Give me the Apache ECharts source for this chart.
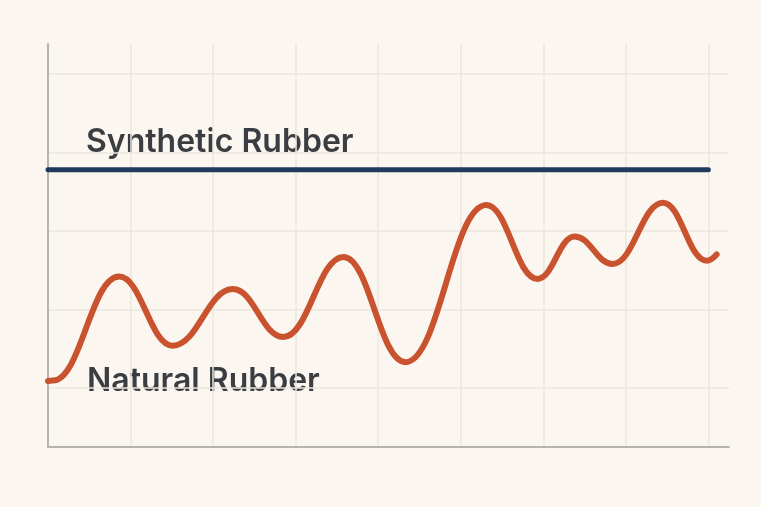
<!DOCTYPE html>
<html>
<head>
<meta charset="utf-8">
<script src="https://cdn.jsdelivr.net/npm/echarts@6/dist/echarts.min.js"></script>
<style>
html,body{margin:0;padding:0;background:#fbf7f0;}
#chart{width:761px;height:507px;}
</style>
</head>
<body>
<div id="chart"></div>
<script>
// Series names
const seriesNames = ['Synthetic Rubber', 'Natural Rubber'];

// Synthetic Rubber: flat level
const syntheticX = [0, 8];
const syntheticY = [37.8, 37.8];

// Natural Rubber: oscillating rise (turning points)
const naturalX = [0, 0.06, 0.86, 1.51, 2.24, 2.85, 3.58, 4.33, 5.31, 5.93, 6.38, 6.84, 7.45, 7.98, 8.10];
const naturalY = [10.9, 10.95, 24.2, 15.4, 22.6, 16.5, 26.7, 13.3, 33.3, 23.9, 29.3, 25.8, 33.6, 26.2, 27.0];

const zip = (xs, ys) => xs.map((x, i) => [x, ys[i]]);

const chart = echarts.init(document.getElementById('chart'));
chart.setOption({
  backgroundColor: '#fbf7f0',
  animation: false,
  grid: { left: 48, right: 32, top: 44, bottom: 60 },
  xAxis: {
    type: 'value',
    min: 0, max: 8.25, interval: 1,
    axisLine: { show: true, lineStyle: { color: '#b5b3ad', width: 2 } },
    axisTick: { show: false },
    axisLabel: { show: false },
    splitLine: { show: true, showMaxLine: false, lineStyle: { color: '#ebe6de', width: 1.5 } }
  },
  yAxis: {
    type: 'value',
    min: 2.5, max: 53.8,
    axisLine: { show: true, lineStyle: { color: '#b5b3ad', width: 2 } },
    axisTick: { show: false },
    axisLabel: { show: false },
    splitLine: { show: true, showMinLine: false, showMaxLine: false, lineStyle: { color: '#ebe6de', width: 1.5 } }
  },
  series: [
    {
      name: seriesNames[0],
      type: 'line',
      data: zip(syntheticX, syntheticY),
      showSymbol: false,
      lineStyle: { color: '#1f3a5c', width: 5, cap: 'round' },
      z: 3
    },
    {
      name: seriesNames[1],
      type: 'line',
      smooth: 0.42,
      smoothMonotone: 'x',
      data: zip(naturalX, naturalY),
      showSymbol: false,
      lineStyle: { color: '#c9532f', width: 6, cap: 'round', join: 'round' },
      z: 4
    }
  ],
  graphic: [
    {
      type: 'text', left: 86, top: 126,
      style: { text: seriesNames[0], fill: '#3a3d42', font: '600 32px Inter, "Noto Sans", sans-serif' }
    },
    {
      type: 'text', left: 87, top: 365,
      style: { text: seriesNames[1], fill: '#3a3d42', font: '600 32px Inter, "Noto Sans", sans-serif' }
    }
  ]
});
</script>
</body>
</html>
